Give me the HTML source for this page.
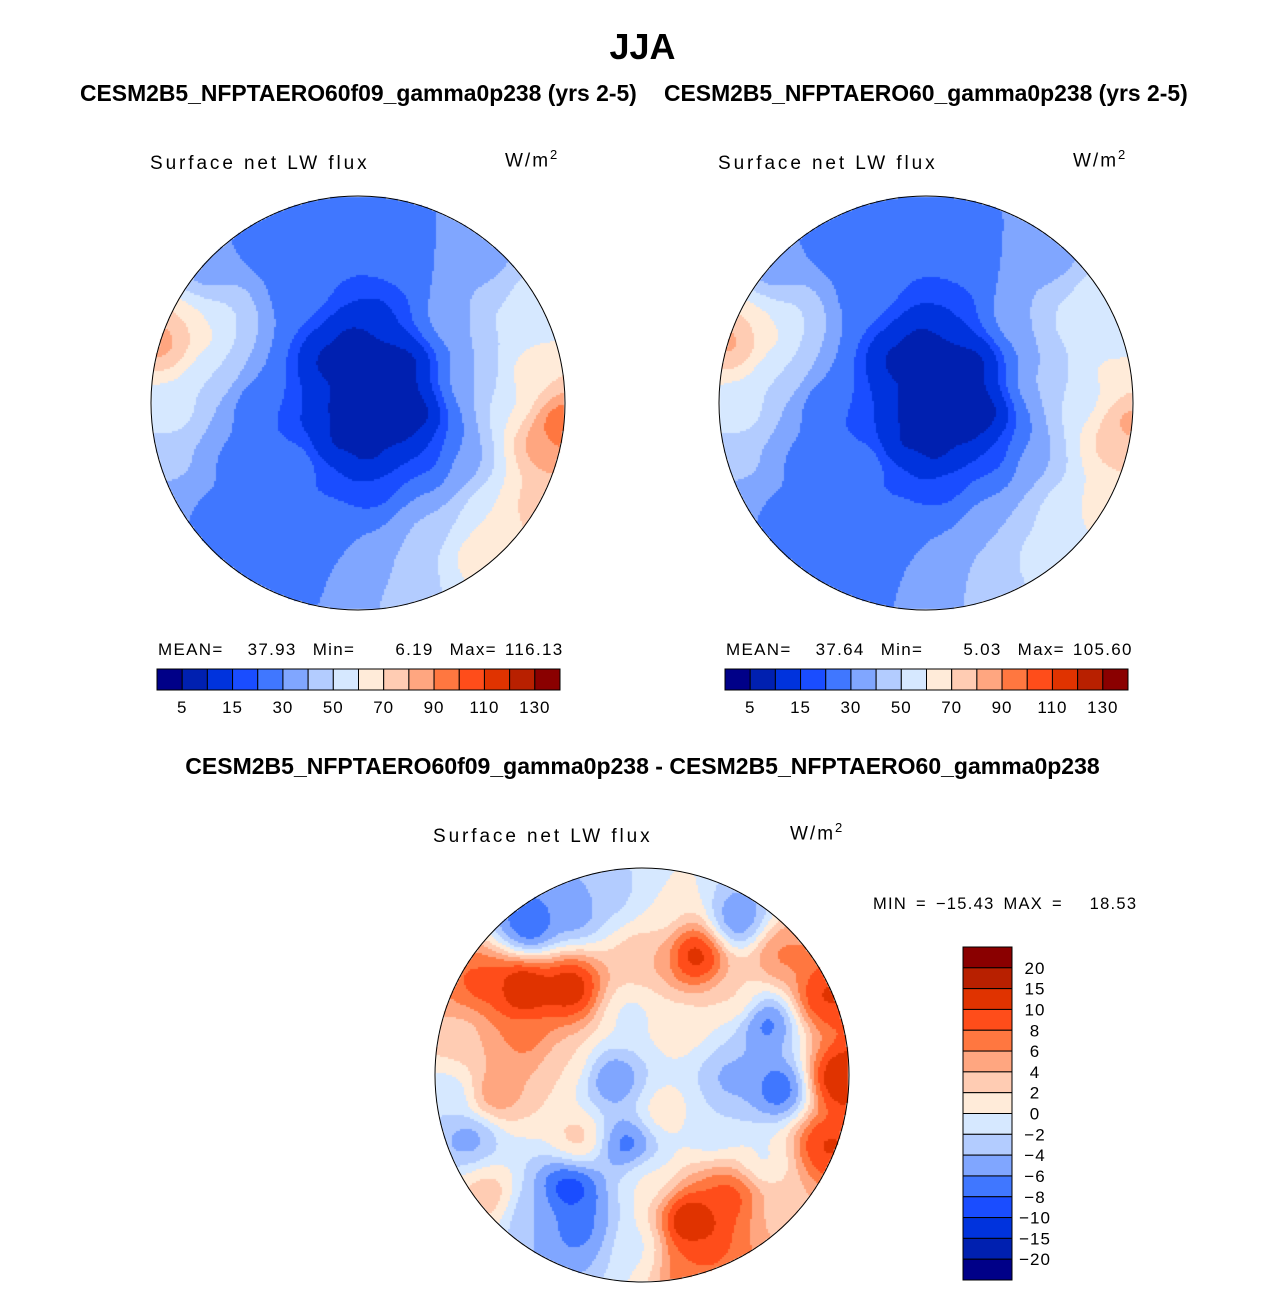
<!DOCTYPE html>
<html><head><meta charset="utf-8">
<style>
body{margin:0;background:#fff;width:1285px;height:1291px;position:relative;overflow:hidden;font-family:"Liberation Sans",sans-serif;}
.t{position:absolute;white-space:nowrap;color:#000;}
.b{font-weight:bold;}
canvas{position:absolute;}
.lab{font-size:19px;letter-spacing:2.9px;}
.st{font-size:17px;letter-spacing:1.3px;word-spacing:2px;}
</style></head><body>
<div class="t b" style="left:0;width:1285px;text-align:center;top:26px;font-size:36px;">JJA</div>
<div class="t b" style="left:80px;top:80px;font-size:22.9px;">CESM2B5_NFPTAERO60f09_gamma0p238 (yrs 2-5)</div>
<div class="t b" style="left:664px;top:80px;font-size:22.9px;">CESM2B5_NFPTAERO60_gamma0p238 (yrs 2-5)</div>
<div class="t lab" style="left:150px;top:153px;">Surface net LW flux</div>
<div class="t lab" style="left:505px;top:147px;letter-spacing:2px;">W/m<sup style="font-size:13px">2</sup></div>
<div class="t lab" style="left:718px;top:153px;">Surface net LW flux</div>
<div class="t lab" style="left:1073px;top:147px;letter-spacing:2px;">W/m<sup style="font-size:13px">2</sup></div>
<div class="t st" style="left:158px;top:640px;">MEAN= &nbsp;&nbsp;37.93 &nbsp;Min= &nbsp;&nbsp;&nbsp;&nbsp;6.19 &nbsp;Max= 116.13</div>
<div class="t st" style="left:726px;top:640px;">MEAN= &nbsp;&nbsp;37.64 &nbsp;Min= &nbsp;&nbsp;&nbsp;&nbsp;5.03 &nbsp;Max= 105.60</div>
<div class="t b" style="left:0;width:1285px;text-align:center;top:753px;font-size:23px;">CESM2B5_NFPTAERO60f09_gamma0p238 - CESM2B5_NFPTAERO60_gamma0p238</div>
<div class="t lab" style="left:433px;top:826px;">Surface net LW flux</div>
<div class="t lab" style="left:790px;top:820px;letter-spacing:2px;">W/m<sup style="font-size:13px">2</sup></div>
<div class="t" style="left:873px;top:895px;font-size:16.5px;letter-spacing:1.3px;word-spacing:3px;">MIN = −15.43 MAX = &nbsp;&nbsp;18.53</div>
<canvas id="c1" width="416" height="416" style="left:150px;top:195px"></canvas>
<canvas id="c2" width="416" height="416" style="left:718px;top:195px"></canvas>
<canvas id="c3" width="416" height="416" style="left:434px;top:867px"></canvas>
<svg id="ov" width="1285" height="1291" style="position:absolute;left:0;top:0"></svg>
<script>
const colors=["#000088","#0020b0","#0033dd","#1a4dff","#4077ff","#80a6ff","#b3ccff","#d6e8ff","#ffebd9","#ffccb3","#ffa680","#ff7740","#ff4d1a","#e03300","#b82000","#8a0000"];
const levelsA=[5,10,15,20,30,40,50,60,70,80,90,100,110,120,130];
const labelsA=["5","15","30","50","70","90","110","130"];
const levelsD=[-20,-15,-10,-8,-6,-4,-2,0,2,4,6,8,10,15,20];
const labelsD=["20","15","10","8","6","4","2","0","−2","−4","−6","−8","−10","−15","−20"];
// control points: [x frac, y frac, value]
const map1Pts=[[0.1,-0.15,5],[0.2,0.1,5],[-0.05,0.05,6],[0.05,0.25,7],[0.25,-0.2,7],[-0.15,-0.2,8],[0,-0.3,7],[0.3,0.05,6],[-0.12,0.2,7],[0.15,-0.05,5],[0.35,0.25,13],[-0.28,0.1,14],[0.1,-0.45,14],[-0.2,0.38,18],[0.1,0.42,16],[-0.5,0,24],[-0.6,0.3,26],[-0.2,0.6,25],[-0.4,0.8,26],[-0.7,0.5,28],[-0.3,-0.55,25],[-0.1,-0.8,22],[0.2,-0.75,28],[-0.45,-0.75,25],[-0.33,0.32,35],[0.45,-0.4,38],[0.55,-0.1,40],[0.5,0.3,35],[0.3,0.6,42],[0.1,0.8,38],[0.3,0.85,48],[0.7,-0.4,52],[0.75,0,58],[0.65,0.5,60],[0.55,0.75,65],[0.85,-0.15,68],[0.9,0.2,88],[0.97,0.1,105],[0.85,0.5,78],[0.7,0.7,70],[0.6,-0.7,35],[0.85,-0.5,55],[-0.93,-0.3,90],[-0.8,-0.35,70],[-0.65,-0.45,52],[-0.7,-0.15,50],[-0.9,0.05,55],[-0.85,0.3,42],[-0.7,-0.65,30]];
const map2Pts=[[0.1,-0.15,5],[0.2,0.1,5],[-0.05,0.05,6],[0.05,0.25,7],[0.25,-0.2,7],[-0.15,-0.2,8],[0,-0.3,7],[0.3,0.05,6],[-0.12,0.2,7],[0.15,-0.05,5],[0.35,0.25,14],[-0.28,0.1,15],[0.1,-0.45,15],[-0.2,0.38,18],[0.1,0.42,18],[-0.5,0,24],[-0.6,0.3,26],[-0.2,0.6,25],[-0.4,0.8,26],[-0.7,0.5,28],[-0.3,-0.55,25],[-0.1,-0.8,22],[0.2,-0.75,28],[-0.45,-0.75,25],[-0.33,0.32,35],[0.45,-0.4,40],[0.55,-0.1,42],[0.5,0.3,38],[0.3,0.6,40],[0.1,0.8,35],[0.3,0.85,45],[0.7,-0.4,55],[0.75,0,55],[0.65,0.5,55],[0.55,0.75,55],[0.85,-0.15,62],[0.9,0.2,75],[0.97,0.1,88],[0.85,0.5,68],[0.7,0.7,60],[0.6,-0.7,35],[0.85,-0.5,58],[-0.93,-0.3,88],[-0.8,-0.35,68],[-0.65,-0.45,52],[-0.7,-0.15,50],[-0.9,0.05,55],[-0.85,0.3,42],[-0.7,-0.65,30]];
const map3Pts=[[-0.54,-0.71,-9],[-0.33,-0.79,-6],[-0.12,-0.87,-3],[0.07,-0.79,0],[0.26,-0.58,13],[0.02,-0.58,4],[0.46,-0.74,-7],[0.67,-0.58,7],[0.88,-0.38,11],[0.94,0.02,13],[0.88,0.34,11],[0.59,-0.26,-9],[0.67,0.07,-9],[0.47,-0.35,3],[0.43,0.02,-5],[0.35,0.26,-2],[0.1,0.18,2],[0.18,-0.22,1],[-0.06,-0.3,-1],[-0.14,0.02,-7],[-0.07,0.34,-9],[-0.35,0.55,-11],[-0.3,0.74,-7],[-0.54,0.66,-4],[-0.73,0.58,4],[-0.83,0.29,-6],[-0.9,0.1,-2],[-0.73,0.1,7],[-0.3,0.31,4],[-0.57,-0.42,14],[-0.35,-0.42,13],[-0.78,-0.42,9],[-0.86,-0.22,3],[-0.54,-0.17,7],[-0.38,-0.06,2],[0.23,0.71,14],[0.43,0.58,10],[0.67,0.66,3],[0.26,0.9,8],[-0.03,0.82,-1],[0.59,0.42,-1],[0.01,0.5,1]];
function bin(v,lv){let i=0;while(i<lv.length&&v>=lv[i])i++;return i;}
function draw(id,pts,lv){
  const c=document.getElementById(id),ctx=c.getContext('2d'),R=207,cx=208,cy=208,s=2;
  for(let y=0;y<416;y+=s)for(let x=0;x<416;x+=s){
    const dx=(x+1-cx)/R,dy=(y+1-cy)/R; if(dx*dx+dy*dy>1.0)continue;
    let ws=0,vs=0;
    for(const p of pts){const d=(dx-p[0])**2+(dy-p[1])**2+0.015;const w=1/Math.pow(d,1.8);ws+=w;vs+=w*p[2];}
    ctx.fillStyle=colors[bin(vs/ws,lv)];ctx.fillRect(x,y,s,s);
  }
}
draw('c1',map1Pts,levelsA);draw('c2',map2Pts,levelsA);draw('c3',map3Pts,levelsD);
const NS="http://www.w3.org/2000/svg",ov=document.getElementById('ov');
function el(t,a){const e=document.createElementNS(NS,t);for(const k in a)e.setAttribute(k,a[k]);ov.appendChild(e);return e;}
[[358,403,'map1-outline'],[926,403,'map2-outline'],[642,1075,'map3-outline']].forEach(m=>{
  const e=el('circle',{cx:m[0],cy:m[1],r:207,fill:'none',stroke:'#000','stroke-width':1});
  
  
});
function hbar(x0,name){
  const w=403/16;
  colors.forEach((col,i)=>{const r=el('rect',{x:x0+i*w,y:669,width:w,height:21,fill:col,stroke:'#000','stroke-width':1});
    
    });
  labelsA.forEach((l,j)=>{const t=el('text',{x:x0+(1+2*j)*w,y:713,'font-size':17,'letter-spacing':1,'text-anchor':'middle','font-family':'Liberation Sans'});t.textContent=l;
    
    });
}
hbar(157,'colorbar1');hbar(725,'colorbar2');
const h=333/16;
colors.slice().reverse().forEach((col,i)=>{const r=el('rect',{x:963,y:947+i*h,width:49,height:h,fill:col,stroke:'#000','stroke-width':1});
  
  });
labelsD.forEach((l,j)=>{const t=el('text',{x:1035,y:947+(j+1)*h+6,'font-size':17,'letter-spacing':1,'text-anchor':'middle','font-family':'Liberation Sans'});t.textContent=l;
  
  });
</script>
</body></html>
